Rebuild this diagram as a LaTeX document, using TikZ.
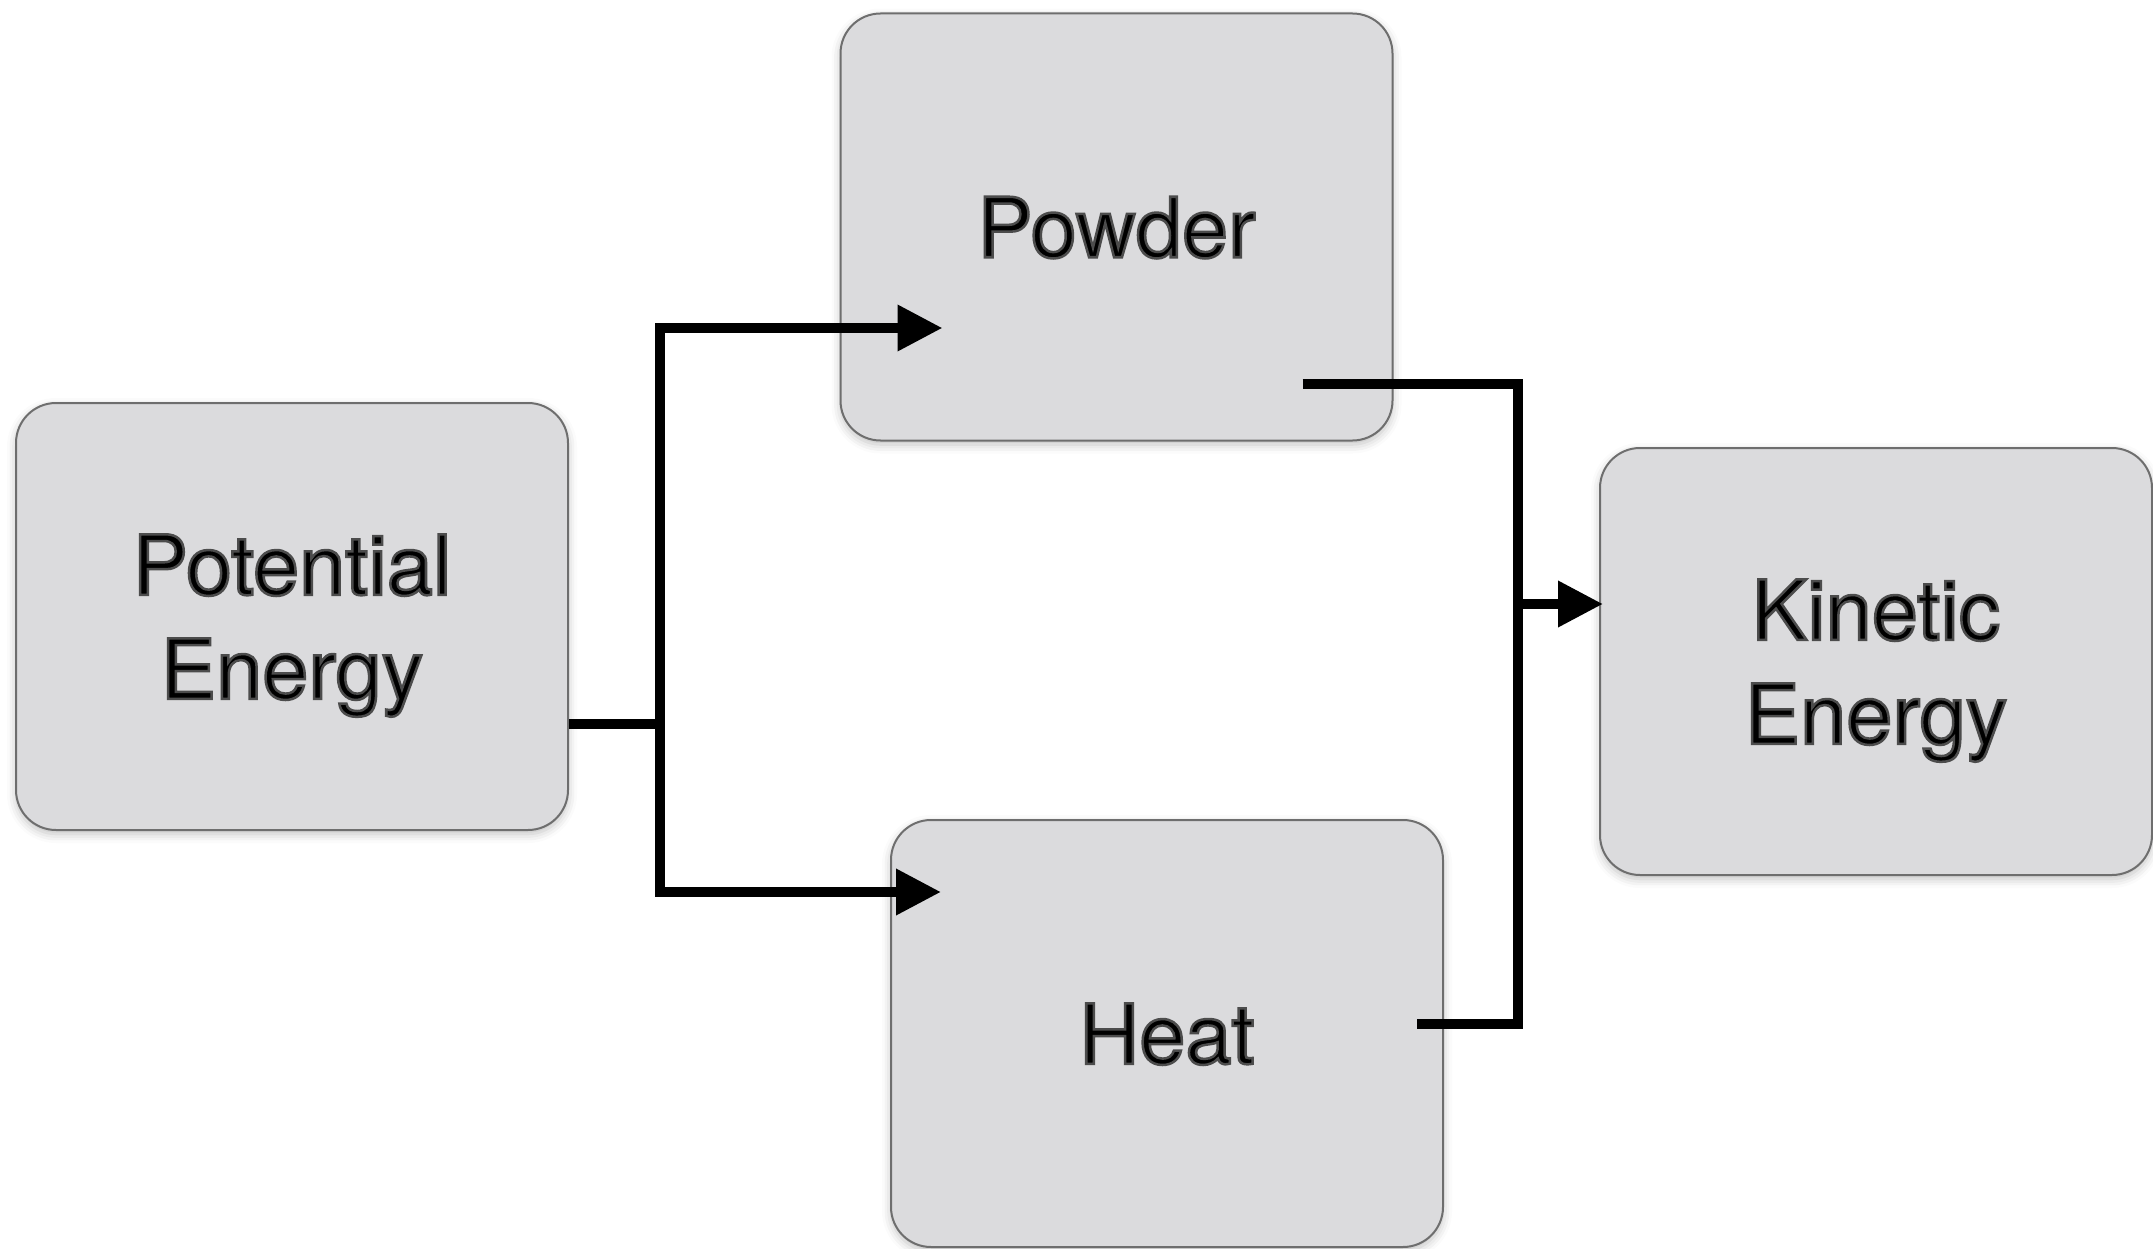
\documentclass[tikz,border=0pt]{standalone}
\usepackage{fontspec}
\setmainfont{TeX Gyre Heros}
\usetikzlibrary{arrows.meta,shadows.blur}
\definecolor{boxfill}{HTML}{DBDBDD}
\definecolor{boxline}{HTML}{6E6E6E}
\newcommand{\glowtext}{\special{pdf:literal direct 2 Tr 2.5 w 0.3 G}}
\begin{document}
\begin{tikzpicture}[x=1pt,y=-1pt,
  stage/.style={rectangle, rounded corners=40pt, minimum width=552pt, minimum height=427pt,
    fill=boxfill, draw=boxline, line width=2pt, align=center, inner sep=0pt, text depth=0pt,
    font=\fontsize{83}{104}\selectfont\glowtext,
    blur shadow={shadow xshift=0pt, shadow yshift=-4pt, shadow blur radius=9pt, shadow opacity=25}},
  conn/.style={line width=10pt, line join=miter, draw=black},
  arr/.style={conn, -{Triangle[length=45pt,width=44pt]}}]
\useasboundingbox (0,0) rectangle (2153,1249);
\node[stage] (pe) at (292,616.5) {Potential\\Energy};
\node[stage] (pw) at (1116.5,227) {Powder};
\node[stage] (ht) at (1167,1033.5) {Heat};
\node[stage] (ke) at (1876,661.5) {Kinetic\\Energy};
\coordinate (jl) at (660,724);
\coordinate (jr) at (1518,604);
\draw[conn] (pe.east |- jl) -- (jl);
\draw[arr] (jl) |- ([xshift=103pt,yshift=-101pt]pw.west);
\draw[arr] (jl) |- ([xshift=51pt,yshift=141.5pt]ht.west);
\draw[conn] ([xshift=-91pt,yshift=-157pt]pw.east) -| (jr);
\draw[conn] ([xshift=-27pt,yshift=9.5pt]ht.east) -| (jr);
\draw[arr] (jr) -- ([xshift=4pt,yshift=57.5pt]ke.west);
\end{tikzpicture}
\end{document}
